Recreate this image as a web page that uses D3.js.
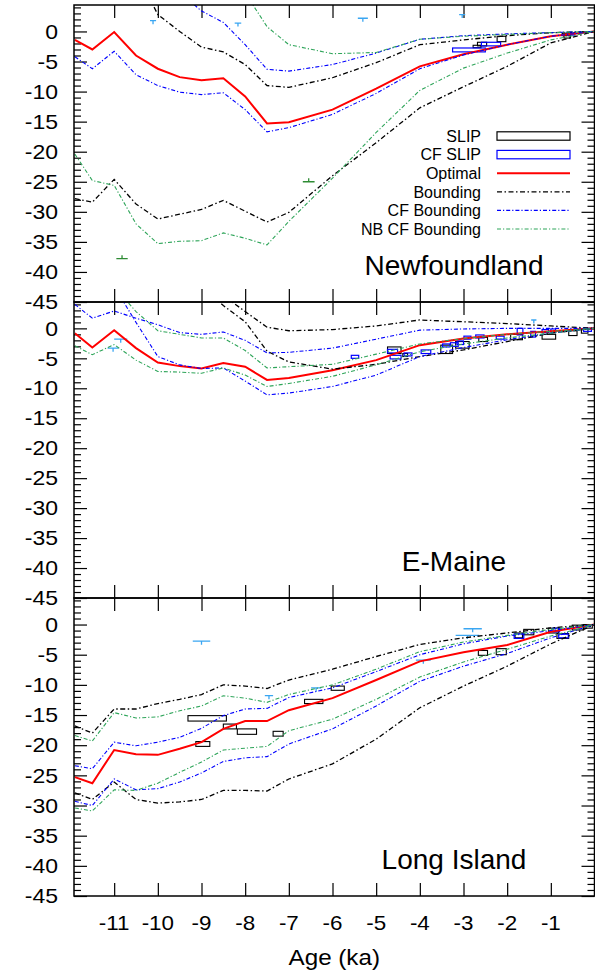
<!DOCTYPE html>
<html>
<head>
<meta charset="utf-8">
<script src="https://cdnjs.cloudflare.com/ajax/libs/d3/7.8.5/d3.min.js"></script>
<style>
  body { margin: 0; background: #fff; }
  svg { display: block; }
  text { font-family: "Liberation Sans", Arial, Helvetica, sans-serif; fill: #000; }
</style>
</head>
<body>
<div id="vis"></div>
<script>
// model time steps (ka), shared by every curve
const ages = [-11.9, -11.5, -11, -10.5, -10, -9.5, -9, -8.5, -8, -7.5, -7, -6, -5, -4, -3, -2, -1, 0];

// Newfoundland
const nfOptimal  = [-1.4, -3.0, -0.1, -4.0, -6.2, -7.6, -8.1, -7.8, -10.8, -15.3, -15.1, -13.0, -9.5, -5.8, -3.8, -2.2, -0.8, 0];
const nfBoundHi  = [12, 12, 14, 10, 2.8, 0, -2.6, -3.4, -5.5, -9.0, -9.3, -7.7, -5.2, -2.2, -1.4, -0.7, -0.2, 0];
const nfBoundLo  = [-27.8, -28.4, -24.6, -28.7, -31.2, -30.4, -29.6, -28.1, -29.9, -31.7, -30.1, -24.0, -18.5, -12.7, -9.2, -5.8, -1.9, 0];
const nfCfHi     = [14, 14, 14, 12, 9.5, 6.5, 3.4, 1.5, -2.2, -6.3, -6.6, -5.5, -3.6, -1.3, -0.7, -0.4, -0.2, 0];
const nfCfLo     = [-4.2, -6.2, -3.3, -7.2, -9.0, -10.1, -10.5, -10.2, -13.0, -16.7, -16.0, -13.8, -10.3, -6.2, -3.9, -2.2, -0.8, 0];
const nfNbHi     = [20, 20, 20, 18, 16, 14, 12, 9, 6.4, 0.8, -2.2, -3.7, -3.5, -1.3, -0.8, -0.5, -0.2, 0];
const nfNbLo     = [-20.4, -24.8, -25.6, -32.0, -35.3, -34.9, -34.8, -33.5, -34.4, -35.5, -31.6, -24.4, -16.8, -9.8, -6.1, -3.6, -1.4, 0];
// boxes: [age from, age to, rsl from, rsl to]
const nfSlip   = [[-2.23, -2.03, -1.7, -0.8], [-2.68, -2.47, -2.4, -1.8], [-2.78, -2.6, -2.7, -2.3], [-0.74, -0.55, -0.7, -0.3], [-0.7, -0.55, -1.1, -0.6]];
const nfCfSlip = [[-3.25, -2.5, -3.4, -2.75], [-2.59, -2.15, -2.4, -1.8], [-0.62, -0.45, -0.6, -0.2]];
// limiting data: [age from, age to, rsl]
const nfMarine = [[-10.18, -10.04, 1.8], [-8.24, -8.09, 1.4], [-5.42, -5.19, 2.2], [-3.1, -2.96, 2.8]];
const nfTerr   = [[-10.95, -10.69, -37.8], [-6.68, -6.41, -25.0]];

// E-Maine
const emOptimal  = [-0.8, -3.2, -0.3, -3.3, -5.7, -6.3, -6.7, -5.8, -6.4, -8.6, -8.3, -7.0, -5.3, -2.8, -1.7, -1.0, -0.5, 0];
const emBoundHi  = [12, 12, 12, 12, 11, 10, 8, 5.5, 2.8, 0.2, -0.4, -0.2, 0.4, 1.4, 1.1, 0.8, 0.4, 0];
const emBoundLo  = [12, 12, 12, 12, 11, 10, 7, 3.8, 1.1, -3.8, -5.6, -6.8, -6.0, -4.7, -3.6, -2.2, -0.8, 0];
const emCfHi     = [4.0, 1.7, 2.9, 1.7, 0.6, -0.7, -1.0, -0.6, -2.0, -4.1, -4.0, -3.3, -1.8, -0.3, -0.1, 0, 0, 0];
const emCfLo     = [9, 9, 7, 1.0, -4.7, -6.1, -6.7, -6.6, -8.8, -11.1, -10.8, -9.7, -7.8, -4.7, -3.2, -1.9, -0.8, 0];
const emNbHi     = [9, 9, 7, 2.8, -0.4, -1.0, -1.6, -1.6, -3.7, -6.6, -6.4, -6.0, -4.3, -2.6, -1.7, -1.0, -0.5, 0];
const emNbLo     = [-2.9, -4.4, -2.7, -5.3, -7.2, -7.3, -7.5, -6.6, -7.8, -9.7, -9.2, -8.0, -6.1, -3.9, -2.6, -1.6, -0.8, 0];
const emSlip   = [[-4.74, -4.43, -4.2, -3.1], [-4.39, -4.28, -4.7, -4.2], [-3.52, -3.25, -4.2, -2.8], [-3.18, -2.87, -3.3, -2.2],
                  [-2.65, -2.45, -2.2, -1.5], [-1.92, -1.65, -1.9, -1.0], [-1.2, -0.89, -1.8, -1.0], [-0.59, -0.4, -1.2, -0.4], [-0.3, -0.15, -0.8, -0.1]];
const emCfSlip = [[-5.57, -5.4, -5.0, -4.5], [-4.74, -4.51, -4.1, -3.5], [-4.68, -4.43, -5.1, -4.5], [-4.36, -4.18, -4.6, -4.1],
                  [-3.97, -3.75, -4.2, -3.6], [-3.48, -3.31, -3.1, -2.6], [-3.3, -3.12, -3.0, -2.4], [-3.15, -3.0, -2.7, -2.1],
                  [-2.99, -2.83, -1.8, -1.3], [-2.72, -2.53, -1.6, -1.1], [-2.25, -2.07, -1.8, -1.3], [-1.77, -1.64, -1.1, 0],
                  [-1.46, -1.35, -1.45, -0.5], [-1.2, -1.05, -0.7, -0.2], [-1.0, -0.89, -0.6, -0.1], [-0.25, -0.07, -0.5, 0]];
const emMarine = [[-11.0, -10.7, -1.8], [-11.15, -10.9, -3.3], [-1.45, -1.33, 1.4]];
const emTerr   = [];

// Long Island
const liOptimal  = [-25.3, -26.3, -20.8, -21.5, -21.6, -20.6, -19.5, -17.3, -16.0, -16.0, -14.2, -12.2, -9.2, -6.1, -4.6, -3.4, -1.2, 0];
const liBoundHi  = [-16.8, -18.0, -14.0, -14.0, -13.1, -12.4, -11.6, -10.0, -10.2, -10.6, -9.2, -7.4, -5.3, -3.3, -2.2, -1.4, -0.55, 0];
const liBoundLo  = [-27.9, -29.0, -26.1, -29.0, -29.6, -29.4, -29.0, -27.5, -27.5, -27.6, -25.6, -23.1, -19.0, -13.8, -10.2, -6.9, -3.2, 0];
const liCfHi     = [-23.4, -23.9, -19.5, -20.1, -19.5, -18.7, -17.2, -15.1, -14.0, -13.9, -12.1, -10.5, -7.8, -5.0, -3.2, -1.9, -1.0, 0];
const liCfLo     = [-29.3, -30.0, -25.6, -27.4, -27.2, -26.1, -24.6, -22.7, -22.1, -21.9, -19.8, -17.3, -13.5, -9.4, -6.9, -4.8, -2.2, 0];
const liNbHi     = [-18.4, -19.3, -14.6, -15.5, -15.3, -14.3, -13.5, -11.8, -12.2, -12.9, -11.6, -10.0, -7.4, -4.5, -2.9, -1.8, -0.8, 0];
const liNbLo     = [-30.4, -30.9, -27.4, -27.5, -26.3, -24.5, -22.8, -20.8, -20.5, -20.2, -17.6, -15.7, -12.4, -8.7, -6.2, -4.1, -1.9, 0];
const liSlip   = [[-9.31, -8.43, -16.0, -15.1], [-9.13, -8.81, -20.2, -19.4], [-8.5, -8.2, -17.3, -16.5], [-8.18, -7.74, -18.2, -17.3],
                  [-7.36, -7.13, -18.5, -17.7], [-6.64, -6.22, -13.1, -12.4], [-6.03, -5.73, -10.9, -10.2], [-2.66, -2.45, -5.1, -4.3],
                  [-2.25, -2.02, -5.0, -4.0], [-1.82, -1.65, -2.2, -1.4], [-1.62, -1.39, -1.7, -0.8], [-1.05, -0.82, -1.4, -0.6],
                  [-0.86, -0.59, -2.3, -1.5], [-0.51, -0.25, -0.9, -0.1], [-0.25, -0.05, -0.6, 0]];
const liCfSlip = [[-1.84, -1.62, -2.3, -1.55], [-0.82, -0.6, -2.2, -1.6], [-0.95, -0.8, -1.2, -0.6]];
const liMarine = [[-9.2, -8.8, -2.75], [-7.55, -7.36, -11.8], [-3.18, -2.64, -1.8], [-3.0, -2.58, -0.7], [-4.09, -3.75, -5.9], [-6.49, -6.26, -10.5]];
const liTerr   = [];

const yTicks = d3.range(-45, 1, 5);
const xTicks = d3.range(-11, 0, 1);
const legendNames = ['SLIP', 'CF SLIP', 'Optimal', 'Bounding', 'CF Bounding', 'NB CF Bounding'];

const panels = [
  {name: 'Newfoundland', opt: nfOptimal, bound: [nfBoundHi, nfBoundLo], cf: [nfCfHi, nfCfLo], nb: [nfNbHi, nfNbLo], slip: nfSlip, cfSlip: nfCfSlip, marine: nfMarine, terr: nfTerr},
  {name: 'E-Maine', opt: emOptimal, bound: [emBoundHi, emBoundLo], cf: [emCfHi, emCfLo], nb: [emNbHi, emNbLo], slip: emSlip, cfSlip: emCfSlip, marine: emMarine, terr: emTerr},
  {name: 'Long Island', opt: liOptimal, bound: [liBoundHi, liBoundLo], cf: [liCfHi, liCfLo], nb: [liNbHi, liNbLo], slip: liSlip, cfSlip: liCfSlip, marine: liMarine, terr: liTerr}
];

const width = 595, height = 973;
const plotLeft = 74, plotRight = 594.5;
const panelTop = [5, 302, 598], panelBottom = [302, 598, 896];

const styles = {
  opt:   {color: '#ff0000', width: 2,   dash: null},
  bound: {color: '#000000', width: 1.3, dash: '5,2.5,1.5,2.5'},
  cf:    {color: '#0000ff', width: 1.1, dash: '4,2,1.2,2'},
  nb:    {color: '#2fa55a', width: 1.1, dash: '4,2,1.2,2'}
};

let svg = d3.select('#vis')
  .append('svg')
  .attr('width', width)
  .attr('height', height)
  .style('background-color', '#fff');

const x = d3.scaleLinear().domain([-11.92, 0]).range([plotLeft, plotRight]);

panels.forEach((p, i) => {
  const y = d3.scaleLinear().domain([-45, 4.4]).range([panelBottom[i], panelTop[i]]);
  const g = svg.append('g');

  svg.append('clipPath').attr('id', 'clip' + i)
    .append('rect')
    .attr('x', plotLeft).attr('y', panelTop[i])
    .attr('width', plotRight - plotLeft).attr('height', panelBottom[i] - panelTop[i]);

  // axes: ticks pointing into the plot
  const minor = d3.range(-45, 5, 1).filter(v => v % 5 !== 0);
  g.append('g').attr('transform', `translate(${plotLeft},0)`)
    .call(d3.axisLeft(y).tickValues(minor).tickSize(-7).tickFormat(''));
  g.append('g').attr('transform', `translate(${plotLeft},0)`)
    .call(d3.axisLeft(y).tickValues(yTicks).tickSize(-13).tickFormat(''));
  g.append('g').attr('transform', `translate(${plotRight},0)`)
    .call(d3.axisRight(y).tickValues(minor).tickSize(-7).tickFormat(''));
  g.append('g').attr('transform', `translate(${plotRight},0)`)
    .call(d3.axisRight(y).tickValues(yTicks).tickSize(-13).tickFormat(''));
  g.append('g').attr('transform', `translate(0,${panelTop[i]})`)
    .call(d3.axisTop(x).tickValues(xTicks).tickSize(-13).tickFormat(''));
  g.append('g').attr('transform', `translate(0,${panelBottom[i]})`)
    .call(d3.axisBottom(x).tickValues(xTicks).tickSize(-13).tickFormat(''));
  g.selectAll('.domain').remove();
  g.selectAll('.tick line').attr('stroke', '#000').attr('stroke-width', 1.2);

  // y labels
  g.selectAll('.ylab').data(yTicks).join('text')
    .attr('class', 'ylab')
    .attr('transform', d => `translate(58,${y(d)}) scale(1.15,1)`)
    .attr('text-anchor', 'end')
    .attr('dy', '0.36em')
    .style('font-size', '20px')
    .text(d => d);

  const plot = g.append('g').attr('clip-path', `url(#clip${i})`);

  // limiting markers
  plot.selectAll('.marine').data(p.marine).join('path')
    .attr('d', d => `M${x(d[0])},${y(d[2])}H${x(d[1])}M${(x(d[0]) + x(d[1])) / 2},${y(d[2])}v3.5`)
    .attr('fill', 'none').attr('stroke', '#3aa6f2').attr('stroke-width', 1.3);
  plot.selectAll('.terr').data(p.terr).join('path')
    .attr('d', d => `M${x(d[0])},${y(d[2])}H${x(d[1])}M${(x(d[0]) + x(d[1])) / 2},${y(d[2])}v-3.5`)
    .attr('fill', 'none').attr('stroke', '#2e8b34').attr('stroke-width', 1.3);

  // SLIP boxes
  plot.selectAll('.slip').data(p.slip).join('rect')
    .attr('x', d => x(d[0])).attr('width', d => x(d[1]) - x(d[0]))
    .attr('y', d => y(d[3])).attr('height', d => y(d[2]) - y(d[3]))
    .attr('fill', 'none').attr('stroke', '#000').attr('stroke-width', 1.1);
  plot.selectAll('.cfslip').data(p.cfSlip).join('rect')
    .attr('x', d => x(d[0])).attr('width', d => x(d[1]) - x(d[0]))
    .attr('y', d => y(d[3])).attr('height', d => y(d[2]) - y(d[3]))
    .attr('fill', 'none').attr('stroke', '#0000ff').attr('stroke-width', 1.2);

  const line = d3.line().x((d, k) => x(ages[k])).y(d => y(d));
  const curves = [['opt', p.opt], ['bound', p.bound[0]], ['bound', p.bound[1]],
                  ['cf', p.cf[0]], ['cf', p.cf[1]], ['nb', p.nb[0]], ['nb', p.nb[1]]];
  curves.forEach(([key, vals]) => {
    plot.append('path')
      .attr('d', line(vals))
      .attr('fill', 'none')
      .attr('stroke', styles[key].color)
      .attr('stroke-width', styles[key].width)
      .attr('stroke-dasharray', styles[key].dash);
  });

  // border
  g.append('rect')
    .attr('x', plotLeft).attr('y', panelTop[i])
    .attr('width', plotRight - plotLeft).attr('height', panelBottom[i] - panelTop[i])
    .attr('fill', 'none').attr('stroke', '#000').attr('stroke-width', 1.5);

  g.append('text')
    .attr('x', 454).attr('y', panelBottom[i] - 27)
    .attr('text-anchor', 'middle')
    .style('font-size', '28px')
    .text(p.name);
});

// x labels on the bottom panel
svg.selectAll('.xlab').data(xTicks).join('text')
  .attr('class', 'xlab')
  .attr('transform', d => `translate(${x(d)},930) scale(1.12,1)`)
  .attr('text-anchor', 'middle')
  .style('font-size', '20px')
  .text(d => d);

svg.append('text')
  .attr('transform', `translate(${(plotLeft + plotRight) / 2},965) scale(1.1,1)`)
  .attr('text-anchor', 'middle')
  .style('font-size', '22px')
  .text('Age (ka)');

// legend (top panel)
const legend = svg.append('g');
const legendKeys = ['slip', 'cfslip', 'opt', 'bound', 'cf', 'nb'];
legendNames.forEach((name, k) => {
  const cy = 136 + k * 18.6;
  legend.append('text')
    .attr('x', 481).attr('y', cy).attr('dy', '0.36em')
    .attr('text-anchor', 'end')
    .style('font-size', '16px')
    .text(name);
  const key = legendKeys[k];
  if (key === 'slip' || key === 'cfslip') {
    legend.append('rect')
      .attr('x', 497).attr('y', cy - 4.2).attr('width', 73).attr('height', 8.4)
      .attr('fill', 'none')
      .attr('stroke', key === 'slip' ? '#000' : '#0000ff')
      .attr('stroke-width', 1.2);
  } else {
    legend.append('line')
      .attr('x1', 497).attr('x2', 570).attr('y1', cy).attr('y2', cy)
      .attr('stroke', styles[key].color)
      .attr('stroke-width', styles[key].width)
      .attr('stroke-dasharray', styles[key].dash);
  }
});
</script>
</body>
</html>
